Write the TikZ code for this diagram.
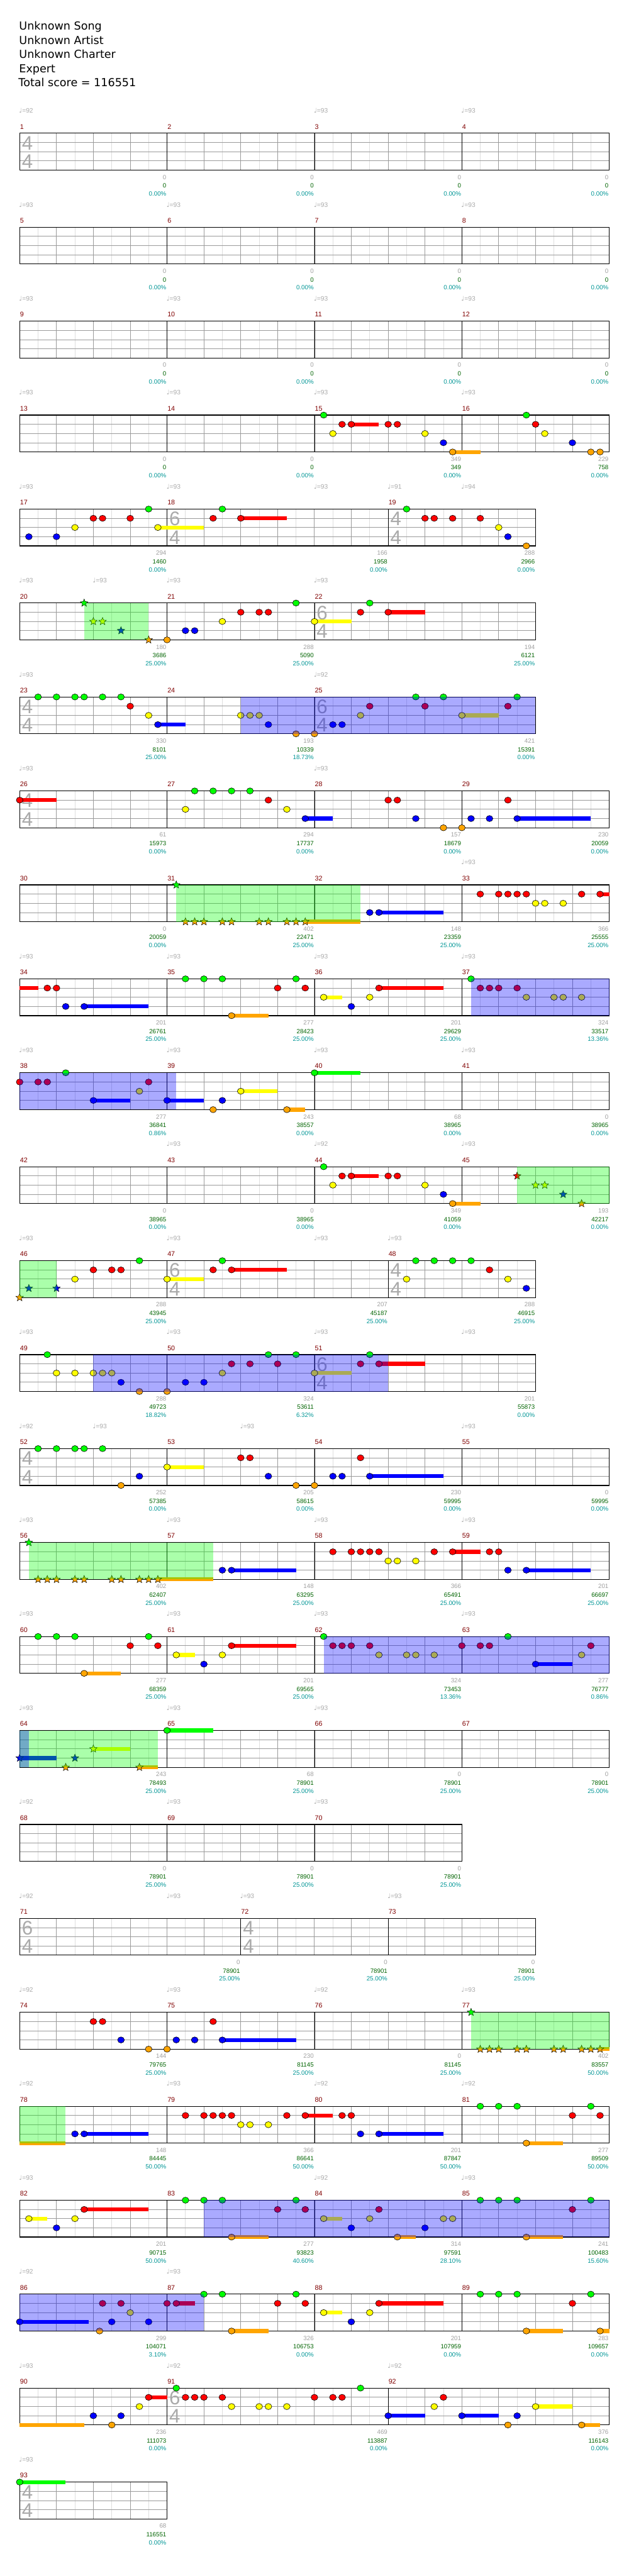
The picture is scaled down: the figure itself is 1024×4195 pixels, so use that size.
\documentclass[tikz,border=0pt]{standalone}
\usepackage{fontspec}
\usepackage{tikz}
\usetikzlibrary{shapes.geometric}
\newfontfamily\headfont{DejaVu Sans}
\newfontfamily\chartfont{Liberation Sans}
\newfontfamily\notefont{DejaVu Sans}

\definecolor{ln0}{RGB}{0,255,0}
\definecolor{ln1}{RGB}{255,0,0}
\definecolor{ln2}{RGB}{255,255,0}
\definecolor{ln3}{RGB}{0,0,255}
\definecolor{ln4}{RGB}{255,165,0}
\definecolor{mred}{RGB}{128,0,0}
\definecolor{scgray}{RGB}{160,160,160}
\definecolor{scgreen}{RGB}{0,100,0}
\definecolor{scteal}{RGB}{0,150,150}
\definecolor{siggray}{RGB}{170,170,170}
\definecolor{lightgrid}{RGB}{222,222,222}
\definecolor{beatgrid}{RGB}{155,155,155}

\tikzset{
  lightln/.style={draw=lightgrid,line width=0.8},
  beatln/.style={draw=beatgrid,line width=0.9},
  barln/.style={draw=black,line width=0.8},
  border/.style={draw=black,line width=1.2},
  notehead/.style={draw=black,line width=0.6},
  spstar/.style={star,star points=5,star point ratio=2.3,draw=black,line width=0.5,inner sep=0,minimum size=13},
  odzone/.style={fill=ln3,fill opacity=0.333},
  spzone/.style={fill=ln0,fill opacity=0.333},
  headtxt/.style={anchor=base west,inner sep=0,font=\headfont\fontsize{18}{22}\selectfont},
  mnumtxt/.style={anchor=base west,inner sep=0,text=mred,font=\chartfont\fontsize{11}{13}\selectfont},
  tempotxt/.style={anchor=base west,inner sep=0,text=siggray,font=\chartfont\fontsize{10.5}{12}\selectfont},
  sctxt/.style={anchor=base east,inner sep=0,font=\chartfont\fontsize{10}{12}\selectfont},
  sigtxt/.style={inner sep=0,text=siggray,font=\chartfont\fontsize{32}{32}\selectfont}
}

% grid of one row, #1 = beats
\newcommand{\staff}[1]{%
  \foreach \bt in {1,...,#1}{\draw[lightln] (\bt*60-30,0) -- (\bt*60-30,60);}%
  \foreach \bt in {1,...,#1}{\draw[beatln] (\bt*60,0) -- (\bt*60,60);}%
  \foreach \ll in {15,30,45}{\draw[beatln] (0,\ll) -- (#1*60,\ll);}%
  \draw[border] (0,0) rectangle (#1*60,60);}
\newcommand{\mbar}[1]{\draw[barln] (#1*15,0) -- (#1*15,60);}
\newcommand{\tsig}[2]{\node[sigtxt] at (#1*15+12.5,16) {#2}; \node[sigtxt] at (#1*15+12.5,46) {4};}
\newcommand{\mnum}[2]{\node[mnumtxt] at (#1*15+0.5,-7) {#2};}
\newcommand{\tempo}[2]{\node[tempotxt] at (#1*15-1,-33) {{\notefont\char"2669}=#2};}
\newcommand{\mscore}[4]{%
  \node[sctxt,text=scgray] at (#1*15-1,75) {#2};
  \node[sctxt,text=scgreen] at (#1*15-1,89) {#3};
  \node[sctxt,text=scteal] at (#1*15-1,102) {#4\%};}
% notes: #1 = lane, #2 = position in sixteenths, #3 = length
\newcommand{\nt}[2]{\path[notehead,fill=ln#1] (#2*15,#1*15) ellipse (5.5 and 5);}
\newcommand{\sus}[3]{\fill[ln#1] (#2*15,#1*15-3.2) rectangle ({(#2+#3)*15},#1*15+3.2);}
\newcommand{\hold}[3]{\sus{#1}{#2}{#3}\nt{#1}{#2}}
\newcommand{\spn}[2]{\node[spstar,fill=ln#1] at (#2*15,#1*15) {};}
\newcommand{\spsus}[3]{\sus{#1}{#2}{#3}\spn{#1}{#2}}
\newcommand{\od}[2]{\fill[odzone] (#1*15,0) rectangle (#2*15,60);}
\newcommand{\spz}[2]{\fill[spzone] (#1*15,0) rectangle (#2*15,60);}

\begin{document}
\begin{tikzpicture}[x=1pt,y=-1pt]
\useasboundingbox (0,0) rectangle (1024,4195);
\fill[white] (0,0) rectangle (1024,4195);
% header
\node[headtxt] at (31,49) {Unknown Song};
\node[headtxt] at (31,72) {Unknown Artist};
\node[headtxt] at (31,95) {Unknown Charter};
\node[headtxt] at (31,118) {Expert};
\node[headtxt] at (30,141) {Total score = 116551};

% row 1: measures 1-4
\begin{scope}[shift={(32,217)}]
\staff{16} \mbar{16} \mbar{32} \mbar{48} \tsig{0}{4}
\mnum{0}{1} \mnum{16}{2} \mnum{32}{3} \mnum{48}{4}
\tempo{0}{92} \tempo{32}{93} \tempo{48}{93}
\mscore{16}{0}{0}{0.00} \mscore{32}{0}{0}{0.00} \mscore{48}{0}{0}{0.00} \mscore{64}{0}{0}{0.00}
\end{scope}

% row 2: measures 5-8
\begin{scope}[shift={(32,370)}]
\staff{16} \mbar{16} \mbar{32} \mbar{48}
\mnum{0}{5} \mnum{16}{6} \mnum{32}{7} \mnum{48}{8}
\tempo{0}{93} \tempo{16}{93} \tempo{32}{93} \tempo{48}{93}
\mscore{16}{0}{0}{0.00} \mscore{32}{0}{0}{0.00} \mscore{48}{0}{0}{0.00} \mscore{64}{0}{0}{0.00}
\end{scope}

% row 3: measures 9-12
\begin{scope}[shift={(32,523)}]
\staff{16} \mbar{16} \mbar{32} \mbar{48}
\mnum{0}{9} \mnum{16}{10} \mnum{32}{11} \mnum{48}{12}
\tempo{0}{93} \tempo{16}{93} \tempo{32}{93} \tempo{48}{93}
\mscore{16}{0}{0}{0.00} \mscore{32}{0}{0}{0.00} \mscore{48}{0}{0}{0.00} \mscore{64}{0}{0}{0.00}
\end{scope}

% row 4: measures 13-16
\begin{scope}[shift={(32,676)}]
\staff{16} \mbar{16} \mbar{32} \mbar{48}
\mnum{0}{13} \mnum{16}{14} \mnum{32}{15} \mnum{48}{16}
\tempo{0}{93} \tempo{16}{93} \tempo{32}{93} \tempo{48}{93}
\nt{0}{33} \nt{1}{35} \hold{1}{36}{3} \nt{1}{40} \nt{1}{41} \nt{2}{34} \nt{2}{44} \nt{3}{46} \hold{4}{47}{3}
\nt{0}{55} \nt{1}{56} \nt{2}{57} \nt{3}{60} \nt{4}{62} \nt{4}{63}
\mscore{16}{0}{0}{0.00} \mscore{32}{0}{0}{0.00} \mscore{48}{349}{349}{0.00} \mscore{64}{229}{758}{0.00}
\end{scope}

% row 5: measures 17-19
\begin{scope}[shift={(32,829)}]
\staff{14} \mbar{16} \mbar{40} \tsig{16}{6} \tsig{40}{4}
\mnum{0}{17} \mnum{16}{18} \mnum{40}{19}
\tempo{0}{93} \tempo{16}{93} \tempo{32}{93} \tempo{40}{91} \tempo{48}{94}
\nt{3}{1} \nt{3}{4} \nt{2}{6} \nt{1}{8} \nt{1}{9} \nt{1}{12} \nt{0}{14} \hold{2}{15}{5} \nt{1}{21} \nt{0}{22} \hold{1}{24}{5}
\nt{0}{42} \nt{1}{44} \nt{1}{45} \nt{1}{47} \nt{1}{50} \nt{2}{52} \nt{3}{53} \nt{4}{55}
\mscore{16}{294}{1460}{0.00} \mscore{40}{166}{1958}{0.00} \mscore{56}{288}{2966}{0.00}
\end{scope}

% row 6: measures 20-22
\begin{scope}[shift={(32,982)}]
\staff{14} \mbar{16} \mbar{32} \tsig{32}{6}
\mnum{0}{20} \mnum{16}{21} \mnum{32}{22}
\tempo{0}{93} \tempo{8}{93} \tempo{16}{93} \tempo{32}{93}
\spn{0}{7} \spn{2}{8} \spn{2}{9} \spn{3}{11} \spn{4}{14}
\nt{4}{16} \nt{3}{18} \nt{3}{19} \nt{2}{22} \nt{1}{24} \nt{1}{26} \nt{1}{27} \nt{0}{30} \hold{2}{32}{4} \nt{1}{37} \nt{0}{38} \hold{1}{40}{4}
\spz{7}{14}
\mscore{16}{180}{3686}{25.00} \mscore{32}{288}{5090}{25.00} \mscore{56}{194}{6121}{25.00}
\end{scope}

% row 7: measures 23-25
\begin{scope}[shift={(32,1135)}]
\staff{14} \mbar{16} \mbar{32} \tsig{0}{4} \tsig{32}{6}
\mnum{0}{23} \mnum{16}{24} \mnum{32}{25}
\tempo{0}{93} \tempo{32}{92}
\nt{0}{2} \nt{0}{4} \nt{0}{6} \nt{0}{7} \nt{0}{9} \nt{0}{11} \nt{1}{12} \nt{2}{14} \hold{3}{15}{3}
\nt{2}{24} \nt{2}{25} \nt{2}{26} \nt{3}{27} \nt{4}{30} \nt{4}{32} \nt{3}{34} \nt{3}{35} \nt{2}{37} \nt{1}{38}
\nt{0}{43} \nt{1}{44} \nt{0}{46} \hold{2}{48}{4} \nt{1}{53} \nt{0}{54}
\od{24}{56}
\mscore{16}{330}{8101}{25.00} \mscore{32}{193}{10339}{18.73} \mscore{56}{421}{15391}{0.00}
\end{scope}

% row 8: measures 26-29
\begin{scope}[shift={(32,1288)}]
\staff{16} \mbar{16} \mbar{32} \mbar{48} \tsig{0}{4}
\mnum{0}{26} \mnum{16}{27} \mnum{32}{28} \mnum{48}{29}
\tempo{0}{93} \tempo{32}{93}
\hold{1}{0}{4} \nt{2}{18} \nt{0}{19} \nt{0}{21} \nt{0}{23} \nt{0}{25} \nt{1}{27} \nt{2}{29} \hold{3}{31}{3}
\nt{1}{40} \nt{1}{41} \nt{3}{43} \nt{4}{46} \nt{4}{48} \nt{3}{49} \nt{3}{51} \nt{1}{53} \hold{3}{54}{8}
\mscore{16}{61}{15973}{0.00} \mscore{32}{294}{17737}{0.00} \mscore{48}{157}{18679}{0.00} \mscore{64}{230}{20059}{0.00}
\end{scope}

% row 9: measures 30-33
\begin{scope}[shift={(32,1441)}]
\staff{16} \mbar{16} \mbar{32} \mbar{48}
\mnum{0}{30} \mnum{16}{31} \mnum{32}{32} \mnum{48}{33}
\tempo{48}{93}
\spn{0}{17} \spn{4}{18} \spn{4}{19} \spn{4}{20} \spn{4}{22} \spn{4}{23} \spn{4}{26} \spn{4}{27} \spn{4}{29} \spn{4}{30} \spsus{4}{31}{6}
\nt{3}{38} \hold{3}{39}{7} \nt{1}{50} \nt{1}{52} \nt{1}{53} \nt{1}{54} \nt{1}{55} \nt{2}{56} \nt{2}{57} \nt{2}{59} \nt{1}{61} \hold{1}{63}{1}
\spz{17}{37}
\mscore{16}{0}{20059}{0.00} \mscore{32}{402}{22471}{25.00} \mscore{48}{148}{23359}{25.00} \mscore{64}{366}{25555}{25.00}
\end{scope}

% row 10: measures 34-37
\begin{scope}[shift={(32,1594)}]
\staff{16} \mbar{16} \mbar{32} \mbar{48}
\mnum{0}{34} \mnum{16}{35} \mnum{32}{36} \mnum{48}{37}
\tempo{0}{93} \tempo{16}{93} \tempo{32}{93} \tempo{48}{93}
\sus{1}{0}{2} \nt{1}{3} \nt{1}{4} \nt{3}{5} \hold{3}{7}{7} \nt{0}{18} \nt{0}{20} \nt{0}{22} \hold{4}{23}{4} \nt{1}{28} \nt{0}{30} \nt{1}{31}
\hold{2}{33}{2} \nt{3}{36} \nt{2}{38} \hold{1}{39}{7} \nt{0}{49} \nt{1}{50} \nt{1}{51} \nt{1}{52} \nt{1}{54} \nt{2}{55} \nt{2}{58} \nt{2}{59} \nt{2}{61}
\od{49}{64}
\mscore{16}{201}{26761}{25.00} \mscore{32}{277}{28423}{25.00} \mscore{48}{201}{29629}{25.00} \mscore{64}{324}{33517}{13.36}
\end{scope}

% row 11: measures 38-41
\begin{scope}[shift={(32,1747)}]
\staff{16} \mbar{16} \mbar{32} \mbar{48}
\mnum{0}{38} \mnum{16}{39} \mnum{32}{40} \mnum{48}{41}
\tempo{0}{93} \tempo{16}{93} \tempo{32}{93} \tempo{48}{93}
\nt{1}{0} \nt{1}{2} \nt{1}{3} \nt{0}{5} \hold{3}{8}{4} \nt{2}{13} \nt{1}{14} \hold{3}{16}{4} \nt{4}{21} \nt{3}{22} \hold{2}{24}{4} \hold{4}{29}{2} \hold{0}{32}{5}
\od{0}{17}
\mscore{16}{277}{36841}{0.86} \mscore{32}{243}{38557}{0.00} \mscore{48}{68}{38965}{0.00} \mscore{64}{0}{38965}{0.00}
\end{scope}

% row 12: measures 42-45
\begin{scope}[shift={(32,1900)}]
\staff{16} \mbar{16} \mbar{32} \mbar{48}
\mnum{0}{42} \mnum{16}{43} \mnum{32}{44} \mnum{48}{45}
\tempo{16}{93} \tempo{32}{92} \tempo{48}{93}
\nt{0}{33} \nt{1}{35} \hold{1}{36}{3} \nt{1}{40} \nt{1}{41} \nt{2}{34} \nt{2}{44} \nt{3}{46} \hold{4}{47}{3}
\spn{1}{54} \spn{2}{56} \spn{2}{57} \spn{3}{59} \spn{4}{61}
\spz{54}{64}
\mscore{16}{0}{38965}{0.00} \mscore{32}{0}{38965}{0.00} \mscore{48}{349}{41059}{0.00} \mscore{64}{193}{42217}{0.00}
\end{scope}

% row 13: measures 46-48
\begin{scope}[shift={(32,2053)}]
\staff{14} \mbar{16} \mbar{40} \tsig{16}{6} \tsig{40}{4}
\mnum{0}{46} \mnum{16}{47} \mnum{40}{48}
\tempo{0}{93} \tempo{16}{93} \tempo{32}{93} \tempo{40}{93}
\spn{4}{0} \spn{3}{1} \spn{3}{4} \nt{2}{6} \nt{1}{8} \nt{1}{10} \nt{1}{11} \nt{0}{13} \hold{2}{16}{4} \nt{1}{21} \nt{0}{22} \hold{1}{23}{6}
\nt{2}{42} \nt{0}{43} \nt{0}{45} \nt{0}{47} \nt{0}{49} \nt{1}{51} \nt{2}{53} \nt{3}{55}
\spz{0}{4}
\mscore{16}{288}{43945}{25.00} \mscore{40}{207}{45187}{25.00} \mscore{56}{288}{46915}{25.00}
\end{scope}

% row 14: measures 49-51
\begin{scope}[shift={(32,2206)}]
\staff{14} \mbar{16} \mbar{32} \tsig{32}{6}
\mnum{0}{49} \mnum{16}{50} \mnum{32}{51}
\tempo{0}{93} \tempo{16}{93} \tempo{32}{93} \tempo{48}{93}
\nt{0}{3} \nt{2}{4} \nt{2}{6} \nt{2}{8} \nt{2}{9} \nt{2}{10} \nt{3}{11} \nt{4}{13} \nt{4}{16} \nt{3}{18} \nt{3}{20} \nt{2}{22}
\nt{1}{23} \nt{1}{25} \nt{0}{27} \nt{1}{28} \nt{0}{30} \hold{2}{32}{4} \nt{1}{37} \nt{0}{38} \hold{1}{39}{5}
\od{8}{40}
\mscore{16}{288}{49723}{18.82} \mscore{32}{324}{53611}{6.32} \mscore{56}{201}{55873}{0.00}
\end{scope}

% row 15: measures 52-55
\begin{scope}[shift={(32,2359)}]
\staff{16} \mbar{16} \mbar{32} \mbar{48} \tsig{0}{4}
\mnum{0}{52} \mnum{16}{53} \mnum{32}{54} \mnum{48}{55}
\tempo{0}{92} \tempo{8}{93} \tempo{24}{93} \tempo{48}{93}
\nt{0}{2} \nt{0}{4} \nt{0}{6} \nt{0}{7} \nt{0}{9} \nt{4}{11} \nt{3}{13} \hold{2}{16}{4} \nt{1}{24} \nt{1}{25} \nt{3}{27}
\nt{4}{30} \nt{4}{32} \nt{3}{34} \nt{3}{35} \nt{1}{37} \hold{3}{38}{8}
\mscore{16}{252}{57385}{0.00} \mscore{32}{205}{58615}{0.00} \mscore{48}{230}{59995}{0.00} \mscore{64}{0}{59995}{0.00}
\end{scope}

% row 16: measures 56-59
\begin{scope}[shift={(32,2512)}]
\staff{16} \mbar{16} \mbar{32} \mbar{48}
\mnum{0}{56} \mnum{16}{57} \mnum{32}{58} \mnum{48}{59}
\tempo{0}{93} \tempo{16}{93} \tempo{32}{93} \tempo{48}{93}
\spn{0}{1} \spn{4}{2} \spn{4}{3} \spn{4}{4} \spn{4}{6} \spn{4}{7} \spn{4}{10} \spn{4}{11} \spn{4}{13} \spn{4}{14} \spsus{4}{15}{6}
\nt{3}{22} \hold{3}{23}{7} \nt{1}{34} \nt{1}{36} \nt{1}{37} \nt{1}{38} \nt{1}{39} \nt{2}{40} \nt{2}{41} \nt{2}{43}
\nt{1}{45} \hold{1}{47}{3} \nt{1}{51} \nt{1}{52} \nt{3}{53} \hold{3}{55}{7}
\spz{1}{21}
\mscore{16}{402}{62407}{25.00} \mscore{32}{148}{63295}{25.00} \mscore{48}{366}{65491}{25.00} \mscore{64}{201}{66697}{25.00}
\end{scope}

% row 17: measures 60-63
\begin{scope}[shift={(32,2665)}]
\staff{16} \mbar{16} \mbar{32} \mbar{48}
\mnum{0}{60} \mnum{16}{61} \mnum{32}{62} \mnum{48}{63}
\tempo{0}{93} \tempo{16}{93} \tempo{32}{93} \tempo{48}{93}
\nt{0}{2} \nt{0}{4} \nt{0}{6} \hold{4}{7}{4} \nt{1}{12} \nt{0}{14} \nt{1}{15} \hold{2}{17}{2} \nt{3}{20} \nt{2}{22} \hold{1}{23}{7}
\nt{0}{33} \nt{1}{34} \nt{1}{35} \nt{1}{36} \nt{1}{38} \nt{2}{39} \nt{2}{42} \nt{2}{43} \nt{2}{45}
\nt{1}{48} \nt{1}{50} \nt{1}{51} \nt{0}{53} \hold{3}{56}{4} \nt{2}{61} \nt{1}{62}
\od{33}{64}
\mscore{16}{277}{68359}{25.00} \mscore{32}{201}{69565}{25.00} \mscore{48}{324}{73453}{13.36} \mscore{64}{277}{76777}{0.86}
\end{scope}

% row 18: measures 64-67
\begin{scope}[shift={(32,2818)}]
\staff{16} \mbar{16} \mbar{32} \mbar{48}
\mnum{0}{64} \mnum{16}{65} \mnum{32}{66} \mnum{48}{67}
\tempo{0}{93} \tempo{16}{93} \tempo{32}{93}
\spsus{3}{0}{4} \spn{4}{5} \spn{3}{6} \spsus{2}{8}{4} \spsus{4}{13}{2} \hold{0}{16}{5}
\spz{0}{15} \od{0}{1}
\mscore{16}{243}{78493}{25.00} \mscore{32}{68}{78901}{25.00} \mscore{48}{0}{78901}{25.00} \mscore{64}{0}{78901}{25.00}
\end{scope}

% row 19: measures 68-70
\begin{scope}[shift={(32,2971)}]
\staff{12} \mbar{16} \mbar{32}
\mnum{0}{68} \mnum{16}{69} \mnum{32}{70}
\tempo{0}{92} \tempo{16}{93} \tempo{32}{93}
\mscore{16}{0}{78901}{25.00} \mscore{32}{0}{78901}{25.00} \mscore{48}{0}{78901}{25.00}
\end{scope}

% row 20: measures 71-73
\begin{scope}[shift={(32,3124)}]
\staff{14} \mbar{24} \mbar{40} \tsig{0}{6} \tsig{24}{4}
\mnum{0}{71} \mnum{24}{72} \mnum{40}{73}
\tempo{0}{92} \tempo{16}{93} \tempo{24}{93} \tempo{40}{93}
\mscore{24}{0}{78901}{25.00} \mscore{40}{0}{78901}{25.00} \mscore{56}{0}{78901}{25.00}
\end{scope}

% row 21: measures 74-77
\begin{scope}[shift={(32,3277)}]
\staff{16} \mbar{16} \mbar{32} \mbar{48}
\mnum{0}{74} \mnum{16}{75} \mnum{32}{76} \mnum{48}{77}
\tempo{0}{92} \tempo{16}{93} \tempo{32}{92} \tempo{48}{93}
\nt{1}{8} \nt{1}{9} \nt{3}{11} \nt{4}{14} \nt{4}{16} \nt{3}{17} \nt{3}{19} \nt{1}{21} \hold{3}{22}{8}
\spn{0}{49} \spn{4}{50} \spn{4}{51} \spn{4}{52} \spn{4}{54} \spn{4}{55} \spn{4}{58} \spn{4}{59} \spn{4}{61} \spn{4}{62} \spsus{4}{63}{1}
\spz{49}{64}
\mscore{16}{144}{79765}{25.00} \mscore{32}{230}{81145}{25.00} \mscore{48}{0}{81145}{25.00} \mscore{64}{402}{83557}{50.00}
\end{scope}

% row 22: measures 78-81
\begin{scope}[shift={(32,3430)}]
\staff{16} \mbar{16} \mbar{32} \mbar{48}
\mnum{0}{78} \mnum{16}{79} \mnum{32}{80} \mnum{48}{81}
\tempo{0}{92} \tempo{16}{93} \tempo{32}{92} \tempo{48}{92}
\sus{4}{0}{5} \nt{3}{6} \hold{3}{7}{7} \nt{1}{18} \nt{1}{20} \nt{1}{21} \nt{1}{22} \nt{1}{23} \nt{2}{24} \nt{2}{25} \nt{2}{27}
\nt{1}{29} \hold{1}{31}{3} \nt{1}{35} \nt{1}{36} \nt{3}{37} \hold{3}{39}{7} \nt{0}{50} \nt{0}{52} \nt{0}{54} \hold{4}{55}{4} \nt{1}{60} \nt{0}{62} \nt{1}{63}
\spz{0}{5}
\mscore{16}{148}{84445}{50.00} \mscore{32}{366}{86641}{50.00} \mscore{48}{201}{87847}{50.00} \mscore{64}{277}{89509}{50.00}
\end{scope}

% row 23: measures 82-85
\begin{scope}[shift={(32,3583)}]
\staff{16} \mbar{16} \mbar{32} \mbar{48}
\mnum{0}{82} \mnum{16}{83} \mnum{32}{84} \mnum{48}{85}
\tempo{0}{93} \tempo{32}{92} \tempo{48}{93}
\hold{2}{1}{2} \nt{3}{4} \nt{2}{6} \hold{1}{7}{7} \nt{0}{18} \nt{0}{20} \nt{0}{22} \hold{4}{23}{4} \nt{1}{28} \nt{0}{30} \nt{1}{31}
\hold{2}{33}{2} \nt{3}{36} \nt{2}{38} \nt{1}{39} \hold{4}{41}{2} \nt{3}{44} \nt{2}{46} \nt{2}{47} \nt{0}{50} \nt{0}{52} \nt{0}{54} \hold{4}{55}{4} \nt{1}{60} \nt{0}{62}
\od{20}{64}
\mscore{16}{201}{90715}{50.00} \mscore{32}{277}{93823}{40.60} \mscore{48}{314}{97591}{28.10} \mscore{64}{241}{100483}{15.60}
\end{scope}

% row 24: measures 86-89
\begin{scope}[shift={(32,3736)}]
\staff{16} \mbar{16} \mbar{32} \mbar{48}
\mnum{0}{86} \mnum{16}{87} \mnum{32}{88} \mnum{48}{89}
\tempo{0}{92} \tempo{16}{93}
\hold{3}{0}{7.5} \nt{4}{8.67} \nt{1}{9} \nt{3}{10} \nt{1}{11} \nt{2}{12} \nt{3}{14} \nt{1}{16} \hold{1}{17}{2} \nt{0}{20} \nt{0}{22} \hold{4}{23}{4} \nt{1}{28} \nt{0}{30} \nt{1}{31}
\hold{2}{33}{2} \nt{3}{36} \nt{2}{38} \hold{1}{39}{7} \nt{0}{50} \nt{0}{52} \nt{0}{54} \hold{4}{55}{4} \nt{1}{60} \nt{0}{62} \hold{4}{63}{1}
\od{0}{20}
\mscore{16}{299}{104071}{3.10} \mscore{32}{326}{106753}{0.00} \mscore{48}{201}{107959}{0.00} \mscore{64}{283}{109657}{0.00}
\end{scope}

% row 25: measures 90-92
\begin{scope}[shift={(32,3889)}]
\staff{16} \mbar{16} \mbar{40} \tsig{16}{6}
\mnum{0}{90} \mnum{16}{91} \mnum{40}{92}
\tempo{0}{93} \tempo{16}{92} \tempo{40}{92}
\sus{4}{0}{7} \nt{3}{8} \nt{4}{10} \nt{3}{11} \nt{2}{13} \hold{1}{14}{2} \nt{0}{17} \nt{1}{18} \nt{1}{19} \nt{1}{20} \nt{1}{22} \nt{2}{23} \nt{2}{26} \nt{2}{27} \nt{2}{29}
\nt{1}{32} \nt{1}{34} \nt{1}{35} \nt{0}{37} \hold{3}{40}{4} \nt{2}{45} \nt{1}{46} \hold{3}{48}{4} \nt{4}{53} \nt{3}{54} \hold{2}{56}{4} \hold{4}{61}{2}
\mscore{16}{236}{111073}{0.00} \mscore{40}{469}{113887}{0.00} \mscore{64}{376}{116143}{0.00}
\end{scope}

% row 26: measure 93
\begin{scope}[shift={(32,4042)}]
\staff{4} \tsig{0}{4}
\mnum{0}{93}
\tempo{0}{93}
\hold{0}{0}{5}
\mscore{16}{68}{116551}{0.00}
\end{scope}
\end{tikzpicture}
\end{document}
